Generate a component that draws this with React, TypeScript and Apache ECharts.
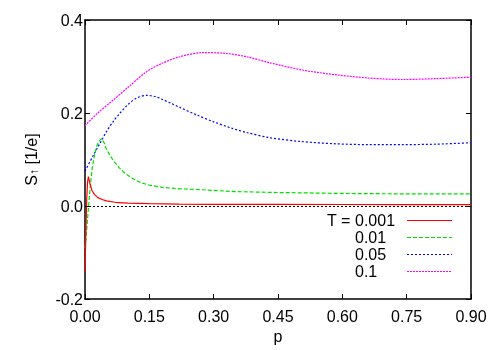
import React, { useEffect, useRef } from "react";
import * as echarts from "echarts";

const seriesNames = ["T = 0.001", "0.01", "0.05", "0.1"];
const seriesColors = ["#ff0000", "#00e000", "#0000ff", "#ff00ff"];

const pRed = [0, 0.002, 0.004, 0.006, 0.008, 0.011, 0.016, 0.022, 0.03, 0.04, 0.05, 0.07, 0.1, 0.15, 0.22, 0.3, 0.45, 0.6, 0.75, 0.9];
const sRed = [-0.14, -0.06, 0.015, 0.052, 0.063, 0.05, 0.034, 0.025, 0.018, 0.014, 0.011, 0.008, 0.006, 0.005, 0.004, 0.0037, 0.0034, 0.0032, 0.003, 0.003];

const pGreen = [0, 0.004, 0.008, 0.012, 0.016, 0.02, 0.027, 0.033, 0.039, 0.045, 0.05, 0.06, 0.07, 0.08, 0.09, 0.1, 0.113, 0.13, 0.15, 0.18, 0.22, 0.27, 0.35, 0.45, 0.6, 0.75, 0.9];
const sGreen = [-0.09, -0.05, -0.005, 0.04, 0.075, 0.1, 0.128, 0.14, 0.145, 0.135, 0.122, 0.106, 0.093, 0.082, 0.073, 0.066, 0.058, 0.05, 0.045, 0.04, 0.037, 0.035, 0.031, 0.029, 0.027, 0.026, 0.026];

const pBlue = [0, 0.02, 0.035, 0.05, 0.066, 0.08, 0.1, 0.12, 0.144, 0.165, 0.183, 0.2, 0.221, 0.26, 0.3, 0.34, 0.377, 0.43, 0.5, 0.58, 0.66, 0.74, 0.82, 0.9];
const sBlue = [0.075, 0.11, 0.135, 0.16, 0.182, 0.198, 0.218, 0.232, 0.238, 0.235, 0.228, 0.221, 0.212, 0.196, 0.181, 0.168, 0.158, 0.147, 0.139, 0.134, 0.132, 0.132, 0.133, 0.136];

const pMagenta = [0, 0.03, 0.066, 0.1, 0.144, 0.18, 0.221, 0.276, 0.33, 0.377, 0.431, 0.509, 0.587, 0.664, 0.742, 0.82, 0.9];
const sMagenta = [0.173, 0.2, 0.228, 0.255, 0.289, 0.307, 0.321, 0.33, 0.328, 0.321, 0.308, 0.292, 0.282, 0.275, 0.272, 0.274, 0.277];

const xTicks = [0, 0.15, 0.3, 0.45, 0.6, 0.75, 0.9];
const yTicks = [-0.2, 0, 0.2, 0.4];

const FONT = "'Liberation Sans', Arial, Helvetica, sans-serif";

function zip(p: number[], s: number[]) {
  return p.map((x, i) => [x, s[i]]);
}

export default function App() {
  const ref = useRef<HTMLDivElement>(null);
  useEffect(() => {
    if (!ref.current) return;
    const chart = echarts.init(ref.current, undefined, { renderer: "svg" });
    const axisLine = { show: true, onZero: false, lineStyle: { color: "#000", width: 1.5 } };
    const tick = { show: true, inside: true, length: 5, lineStyle: { color: "#000", width: 1 } };
    const xBase = {
      type: "value",
      min: xTicks[0],
      max: xTicks[xTicks.length - 1],
      interval: 0.15,
      splitLine: { show: false },
      axisLine,
      axisTick: tick,
    };
    const yBase = {
      type: "value",
      min: yTicks[0],
      max: yTicks[yTicks.length - 1],
      interval: 0.2,
      splitLine: { show: false },
      axisLine,
      axisTick: tick,
    };
    const dashes: any[] = ["solid", [4, 2], [2, 2], [2, 1]];
    const dashArr: any[] = [null, [4, 2], [2, 2], [2, 1]];
    const lw = 1.2;
    const datas = [zip(pRed, sRed), zip(pGreen, sGreen), zip(pBlue, sBlue), zip(pMagenta, sMagenta)];
    const series: any[] = seriesNames.map((name, i) => ({
      name,
      type: "line",
      data: datas[i],
      showSymbol: false,
      symbol: "none",
      smooth: i >= 2 ? 0.3 : false,
      lineStyle: { color: seriesColors[i], width: lw, type: dashes[i] },
      itemStyle: { color: seriesColors[i] },
      z: 3 - i,
    }));
    series[0].markLine = {
      silent: true,
      symbol: "none",
      label: { show: false },
      lineStyle: { color: "#000", width: 1, type: [2, 2] },
      data: [{ yAxis: 0 }],
    };

    // key drawn like gnuplot: text on the left, line sample on the right
    const keyTop = 220;
    const rowH = 17;
    const keyElems: any[] = [];
    seriesNames.forEach((name, i) => {
      const y = keyTop + i * rowH;
      const isFirst = name.startsWith("T = ");
      if (isFirst) {
        keyElems.push({
          type: "text",
          x: 327,
          y,
          style: { text: "T =", fontSize: 16, fontFamily: FONT, fill: "#000", verticalAlign: "middle", align: "left" },
        });
      }
      keyElems.push({
        type: "text",
        x: 355,
        y,
        style: {
          text: isFirst ? name.slice(4) : name,
          fontSize: 16,
          fontFamily: FONT,
          fill: "#000",
          verticalAlign: "middle",
          align: "left",
        },
      });
      keyElems.push({
        type: "line",
        shape: { x1: 407, y1: y + 0.5, x2: 452, y2: y + 0.5 },
        style: { stroke: seriesColors[i], lineWidth: lw, lineDash: dashArr[i] },
      });
    });

    chart.setOption({
      animation: false,
      textStyle: { fontFamily: FONT },
      grid: { left: 85, right: 29, top: 20, bottom: 51 },
      xAxis: [
        {
          ...xBase,
          position: "bottom",
          name: "p",
          nameLocation: "middle",
          nameGap: 29,
          nameTextStyle: { fontSize: 16, color: "#000", fontFamily: FONT },
          axisLabel: {
            fontSize: 16,
            color: "#000",
            margin: 9,
            fontFamily: FONT,
            formatter: (v: number) => v.toFixed(2),
          },
        },
        { ...xBase, position: "top", axisLabel: { show: false } },
      ],
      yAxis: [
        {
          ...yBase,
          position: "left",
          name: "{s|S}{a|↑} [1/e]",
          nameLocation: "middle",
          nameRotate: 90,
          nameGap: 45,
          nameTextStyle: {
            fontSize: 16,
            color: "#000",
            fontFamily: FONT,
            rich: {
              s: { fontSize: 16, fontFamily: FONT, color: "#000" },
              a: { fontSize: 12, fontFamily: FONT, color: "#000", verticalAlign: "bottom", padding: [6, 0, 0, 0] },
            },
          },
          axisLabel: {
            fontSize: 16,
            color: "#000",
            margin: 2,
            fontFamily: FONT,
            formatter: (v: number) => v.toFixed(1),
          },
        },
        { ...yBase, position: "right", axisLabel: { show: false } },
      ],
      graphic: keyElems,
      series,
    });
    return () => chart.dispose();
  }, []);
  return <div ref={ref} style={{ position: "fixed", left: 0, top: 0, width: 500, height: 350 }} />;
}
